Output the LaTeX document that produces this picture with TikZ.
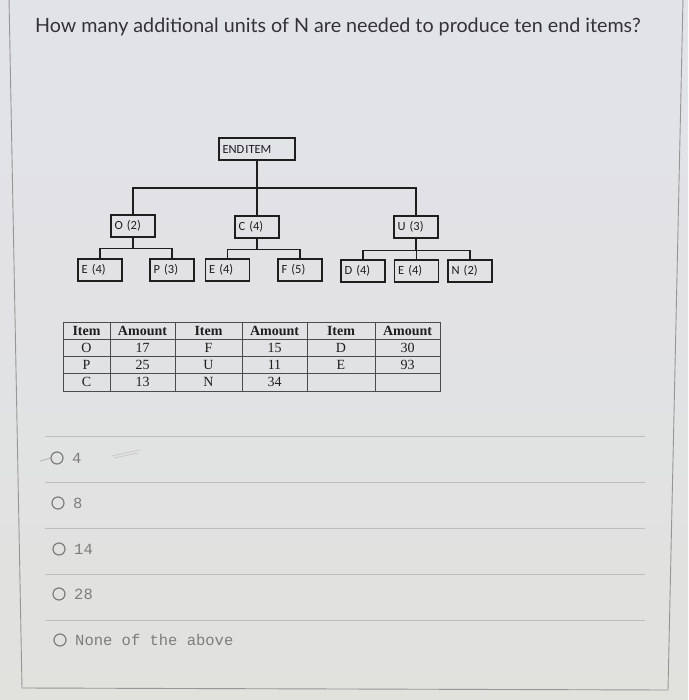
\documentclass[tikz,border=0pt]{standalone}
\usepackage{fontspec}
\setmainfont{Liberation Serif}
\newfontfamily\qfont{Lato}
\newfontfamily\boxfont{Carlito}
\newfontfamily\optfont{Liberation Mono}
\definecolor{bgtop}{RGB}{226,227,233}
\definecolor{bgbot}{RGB}{225,225,222}
\definecolor{framec}{RGB}{150,150,150}
\definecolor{sepc}{RGB}{190,190,190}
\definecolor{optc}{RGB}{125,125,125}
\definecolor{qc}{RGB}{50,50,55}
\definecolor{inkc}{RGB}{30,30,30}
\begin{document}
\begin{tikzpicture}[x=1pt,y=-1pt,
  bx/.style={draw=inkc,line width=1.4pt,minimum height=22pt,inner ysep=0pt,inner xsep=3.5pt,
    text width=37pt,align=left,font=\boxfont\fontsize{12.5}{13}\selectfont,text=inkc},
  tree/.style={draw=inkc,line width=1.4pt},
  cell/.style={font=\fontsize{14}{15}\selectfont,text=inkc,inner sep=0pt},
  hcell/.style={cell,font=\bfseries\fontsize{14}{15}\selectfont},
  grid/.style={draw=inkc!80,line width=0.8pt},
  sep/.style={draw=sepc,line width=0.8pt},
  radio/.style={circle,draw=optc,line width=1.2pt,minimum size=12pt,inner sep=0pt},
  opt/.style={anchor=west,inner sep=0pt,font=\optfont\fontsize{15.5}{16}\selectfont,text=optc}]
\useasboundingbox (0,0) rectangle (688,700);
\shade[top color=bgtop,bottom color=bgbot] (0,0) rectangle (688,700);
\draw[framec,line width=0.9pt] (9,-2) -- (22,688) -- (668,690) -- (683,-2);
% question
\node[anchor=west,inner sep=0pt,font=\qfont\fontsize{19.7}{22}\selectfont,text=qc] (q) at (35,27)
  {How many additional units of N are needed to produce ten end items?};
% tree
\node[bx,text width=69pt] (end) at (257,149) {END\kern1pt ITEM};
\node[bx] (o) at (133,226) {O (2)};
\node[bx] (c) at (257,227) {C (4)};
\node[bx] (u) at (416,227) {U (3)};
\node[bx] (e1) at (100,270) {E (4)};
\node[bx] (p) at (172,270) {P (3)};
\node[bx] (e2) at (227.5,270) {E (4)};
\node[bx] (f) at (300,270) {F (5)};
\node[bx] (d) at (363,271) {D (4)};
\node[bx] (e3) at (416.5,271) {E (4)};
\node[bx] (n) at (470,271) {N (2)};
\coordinate (h1) at (257,188);
\draw[tree] (end.south) -- (h1);
\draw[tree] (o.north) |- (h1) -| (u.north);
\draw[tree] (c.north) -- (c.north |- h1);
\draw[tree] (o.south) -- ++(0,11) coordinate (ho);
\draw[tree] (e1.north) |- (ho) -| (p.north);
\draw[tree] (c.south) -- ++(0,11) coordinate (hc);
\draw[tree] (e2.north) |- (hc) -| (f.north);
\draw[tree] (u.south) -- ++(0,12) coordinate (hu);
\draw[tree] (d.north) |- (hu) -| (n.north);
\draw[tree] (e3.north) -- (e3.north |- hu);
% table
\draw[grid] (63,322) rectangle (440,391);
\foreach \yy in {339,356,373} \draw[grid] (63,\yy) -- (440,\yy);
\foreach \xx in {110,175,242,307,375} \draw[grid] (\xx,322) -- (\xx,391);
\node[hcell] (t11) at (86.5,331) {Item};
\node[hcell] (t12) at (142.5,331) {Amount};
\node[hcell] (t13) at (208.5,331) {Item};
\node[hcell] (t14) at (274.5,331) {Amount};
\node[hcell] (t15) at (341,331) {Item};
\node[hcell] (t16) at (407.5,331) {Amount};
\node[cell] (t21) at (86.5,348) {O};
\node[cell] (t22) at (142.5,348) {17};
\node[cell] (t23) at (208.5,348) {F};
\node[cell] (t24) at (274.5,348) {15};
\node[cell] (t25) at (341,348) {D};
\node[cell] (t26) at (407.5,348) {30};
\node[cell] (t31) at (86.5,365) {P};
\node[cell] (t32) at (142.5,365) {25};
\node[cell] (t33) at (208.5,365) {U};
\node[cell] (t34) at (274.5,365) {11};
\node[cell] (t35) at (341,365) {E};
\node[cell] (t36) at (407.5,365) {93};
\node[cell] (t41) at (86.5,382) {C};
\node[cell] (t42) at (142.5,382) {13};
\node[cell] (t43) at (208.5,382) {N};
\node[cell] (t44) at (274.5,382) {34};
% separators
\foreach \yy in {436,482,528,574,620} \draw[sep] (45,\yy) -- (645,\yy);
% options
\node[radio] (r1) at (57,458) {};
\node[opt] (o1) at (72,458) {4};
\node[radio] (r2) at (58,503) {};
\node[opt] (o2) at (73,503) {8};
\node[radio] (r3) at (59,549) {};
\node[opt] (o3) at (74,549) {14};
\node[radio] (r4) at (59,594) {};
\node[opt] (o4) at (74,594) {28};
\node[radio] (r5) at (60,640) {};
\node[opt] (o5) at (75,640) {None of the above};
% pencil marks
\draw[optc!60,line width=0.8pt] (40,461) -- (51,458);
\draw[sepc!90,line width=0.7pt] (112,456) -- (140,450);
\draw[sepc!90,line width=0.7pt] (114,458) -- (138,453);
\end{tikzpicture}
\end{document}
